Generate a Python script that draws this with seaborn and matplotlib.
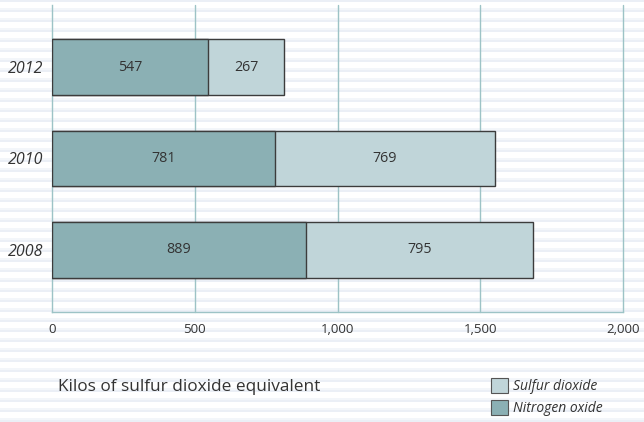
import numpy as np
import pandas as pd
import matplotlib
matplotlib.use("Agg")
import matplotlib.pyplot as plt
from matplotlib.patches import Patch
import seaborn as sns

years = ["2012", "2010", "2008"]
nitrogen_oxide = [547, 781, 889]
sulfur_dioxide = [267, 769, 795]
x_ticks = [0, 500, 1000, 1500, 2000]
x_tick_labels = ["0", "500", "1,000", "1,500", "2,000"]

NOX_COLOR = "#8BB0B4"
SO2_COLOR = "#C0D5D9"
EDGE = "#3c3c3c"
GRID = "#9DC3C6"
TEXT = "#333333"

sns.set_theme(style="white")
plt.rcParams["font.family"] = ["Open Sans", "DejaVu Sans"]

df = pd.DataFrame({
    "year": years,
    "nox": nitrogen_oxide,
    "so2": sulfur_dioxide,
})
df["total"] = df["nox"] + df["so2"]

fig = plt.figure(figsize=(6.44, 4.22), dpi=100)
fig.patch.set_facecolor("white")

# faint striped page background
bg = fig.add_axes([0, 0, 1, 1], zorder=-5)
bg.set_xlim(0, 1)
bg.set_ylim(0, 422)
for y0 in np.arange(0, 422, 10):
    bg.axhspan(y0, y0 + 2, color="#EBEFF6", lw=0)
    bg.axhspan(y0 + 2, y0 + 4, color="#F3F6FA", lw=0)
bg.axis("off")

ax = fig.add_axes([52 / 644, 1 - 312 / 422, (623 - 52) / 644, (312 - 5) / 422])
ax.set_facecolor("none")

# stacked horizontal bars: full total first, nitrogen oxide over it
sns.barplot(data=df, x="total", y="year", order=years, color=SO2_COLOR,
            width=0.61, edgecolor=EDGE, linewidth=1.0, ax=ax, zorder=3,
            saturation=1)
sns.barplot(data=df, x="nox", y="year", order=years, color=NOX_COLOR,
            width=0.61, edgecolor=EDGE, linewidth=1.0, ax=ax, zorder=4,
            saturation=1)

so2_bars = ax.containers[0]
nox_bars = ax.containers[1]
for rect, v in zip(nox_bars, nitrogen_oxide):
    ax.text(rect.get_x() + rect.get_width() / 2, rect.get_y() + rect.get_height() / 2,
            f"{v}", ha="center", va="center", fontsize=10.3, color=TEXT, zorder=6)
for rect, n, s in zip(so2_bars, nitrogen_oxide, sulfur_dioxide):
    ax.text(n + s / 2, rect.get_y() + rect.get_height() / 2,
            f"{s}", ha="center", va="center", fontsize=10.3, color=TEXT, zorder=6)

ax.set_xlim(0, 2000)
ax.set_ylim(2.68, -0.68)
ax.set_xticks(x_ticks)
ax.set_xticklabels(x_tick_labels, fontsize=9.5, color=TEXT)
ax.tick_params(axis="x", length=0, pad=8)
ax.tick_params(axis="y", length=0, pad=6.5)
for lab in ax.get_yticklabels():
    lab.set_fontstyle("italic")
    lab.set_fontsize(11.5)
    lab.set_color(TEXT)
ax.set_xlabel("")
ax.set_ylabel("")

for xv in x_ticks[1:]:
    ax.axvline(xv, color=GRID, lw=1.0, zorder=1, clip_on=False)
for side in ["top", "right"]:
    ax.spines[side].set_visible(False)
ax.spines["left"].set_color(GRID)
ax.spines["bottom"].set_color(GRID)
ax.spines["left"].set_linewidth(1.0)
ax.spines["bottom"].set_linewidth(1.0)

fig.text(58 / 644, 1 - 387 / 422, "Kilos of sulfur dioxide equivalent",
         fontsize=12.4, color=TEXT, ha="left", va="center")

handles = [Patch(facecolor=SO2_COLOR, edgecolor="#555555", lw=0.8, label="Sulfur dioxide"),
           Patch(facecolor=NOX_COLOR, edgecolor="#555555", lw=0.8, label="Nitrogen oxide")]
leg = fig.legend(handles=handles, loc="center left", bbox_to_anchor=(478 / 644, 1 - 397 / 422),
                 frameon=False, handlelength=1.25, handleheight=1.25, handletextpad=0.35,
                 labelspacing=0.45, prop={"size": 10, "style": "italic"})
for t in leg.get_texts():
    t.set_color(TEXT)

fig.savefig("out.png", dpi=100, facecolor=fig.get_facecolor())
